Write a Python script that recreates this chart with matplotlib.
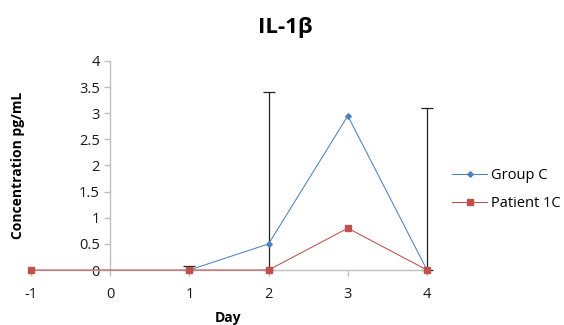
import matplotlib
matplotlib.use("Agg")
import matplotlib.pyplot as plt

days_c = [1, 2, 3, 4]
group_c = [0.0, 0.5, 2.95, 0.0]
group_c_err = [0.08, 2.91, 0.0, 3.1]
days_p = [-1, 1, 2, 3, 4]
patient_1c = [0.0, 0.0, 0.0, 0.8, 0.0]
xticks = [-1, 0, 1, 2, 3, 4]
yticks = [0, 0.5, 1, 1.5, 2, 2.5, 3, 3.5, 4]
ytick_labels = ["0", "0.5", "1", "1.5", "2", "2.5", "3", "3.5", "4"]

plt.rcParams['font.family'] = ['Open Sans', 'DejaVu Sans']

fig = plt.figure(figsize=(5.64, 3.25), dpi=100)
ax = fig.add_axes([31/564, 55/325, 396/564, 209/325])

blue = '#4F81BD'
red = '#C0504D'

# error bars are clipped at the axis minimum (0), as in the source chart
idx = [i for i, e in enumerate(group_c_err) if e > 0]
ex = [days_c[i] for i in idx]
ey = [group_c[i] for i in idx]
eu = [group_c_err[i] for i in idx]
el = [min(group_c[i], group_c_err[i]) for i in idx]
ax.errorbar(ex, ey, yerr=[el, eu], fmt='none', ecolor='#222222',
            elinewidth=0.9, capsize=4, capthick=0.9, zorder=2, clip_on=False)
ax.plot(days_c, group_c, color=blue, lw=0.75, marker='D', ms=2.8,
        label='Group C', zorder=3, clip_on=False)
ax.plot(days_p, patient_1c, color=red, lw=0.75, marker='s', ms=5,
        label='Patient 1C', zorder=4, clip_on=False)

ax.set_xlim(-1, 4)
ax.set_ylim(0, 4)
ax.spines['left'].set_position(('data', 0))
ax.spines['right'].set_visible(False)
ax.spines['top'].set_visible(False)
for s in ('left', 'bottom'):
    ax.spines[s].set_color('#bfbfbf')
    ax.spines[s].set_linewidth(1.0)
ax.set_xticks(xticks)
ax.set_xticklabels([str(x) for x in xticks])
ax.set_yticks(yticks)
ax.set_yticklabels(ytick_labels)
ax.tick_params(axis='both', colors='#bfbfbf', labelcolor='#1a1a1a', labelsize=10.5,
               length=4, width=1.0)
ax.tick_params(axis='x', pad=8)

fig.text(228/564, 1 - 318/325, 'Day', ha='center', va='center', fontsize=10, fontweight='bold')
fig.text(18/564, 1 - 165/325, 'Concentration pg/mL', rotation=90, ha='center', va='center',
         fontsize=10, fontweight='bold')
fig.text(285/564, 1 - 28/325, 'IL-1β', ha='center', va='center', fontsize=16, fontweight='bold')

ax.legend(loc='upper left', bbox_to_anchor=(452/564, 1 - 168/325), bbox_transform=fig.transFigure,
          frameon=False, fontsize=10.5, handlelength=2.4, handletextpad=0.3, labelspacing=0.9,
          borderaxespad=0, borderpad=0)

fig.savefig('out.png', dpi=100)
